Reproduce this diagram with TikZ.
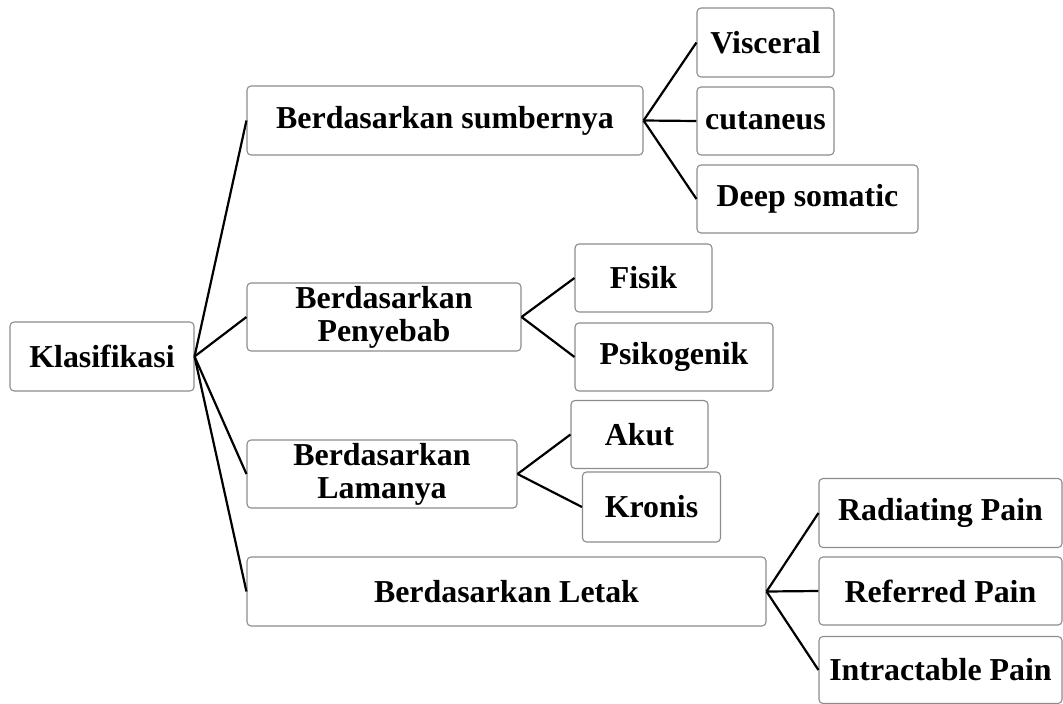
\documentclass[tikz,border=0pt]{standalone}
\usepackage{fontspec}
\setmainfont{Liberation Serif}
\begin{document}
\begin{tikzpicture}[x=1pt,y=-1pt,
  box/.style={draw=black!45, line width=1.1pt, rounded corners=4pt, fill=white,
    inner sep=0pt, align=center,
    font=\fontsize{31.9}{33}\selectfont\bfseries},
  link/.style={draw=black, line width=2.2pt}]
\useasboundingbox (0,0) rectangle (1063,704);
% nodes
\node[box, minimum width=184pt, minimum height=69pt] (kl) at (102,356.5) {Klasifikasi};
\node[box, minimum width=396pt, minimum height=69pt] (s1) at (445,120.5) {Berdasarkan sumbernya};
\node[box, minimum width=274pt, minimum height=68pt] (s2) at (384,317) {Berdasarkan\\Penyebab};
\node[box, minimum width=270pt, minimum height=68pt] (s3) at (382,474) {Berdasarkan\\Lamanya};
\node[box, minimum width=519pt, minimum height=69pt] (s4) at (506.5,591.5) {Berdasarkan Letak};
\node[box, minimum width=137pt, minimum height=69pt] (v) at (765.5,42.5) {Visceral};
\node[box, minimum width=137pt, minimum height=68pt] (c) at (765.5,121) {cutaneus};
\node[box, minimum width=221pt, minimum height=68pt] (d) at (807.5,199) {Deep somatic};
\node[box, minimum width=137pt, minimum height=68pt] (f) at (643.5,278) {Fisik};
\node[box, minimum width=198pt, minimum height=68pt] (p) at (674,357) {Psikogenik};
\node[box, minimum width=137pt, minimum height=68pt] (a) at (639.5,434.5) {Akut};
\node[box, minimum width=138pt, minimum height=70pt] (k) at (651.5,507) {Kronis};
\node[box, minimum width=243pt, minimum height=69pt] (r) at (940.5,513) {Radiating Pain};
\node[box, minimum width=243pt, minimum height=68pt] (rf) at (940.5,591) {Referred Pain};
\node[box, minimum width=243pt, minimum height=67pt] (i) at (940.5,670) {Intractable Pain};
% connectors
\draw[link] (kl.east) -- (s1.west);
\draw[link] (kl.east) -- (s2.west);
\draw[link] (kl.east) -- (s3.west);
\draw[link] (kl.east) -- (s4.west);
\draw[link] (s1.east) -- (v.west);
\draw[link] (s1.east) -- (c.west);
\draw[link] (s1.east) -- (d.west);
\draw[link] (s2.east) -- (f.west);
\draw[link] (s2.east) -- (p.west);
\draw[link] (s3.east) -- (a.west);
\draw[link] (s3.east) -- (k.west);
\draw[link] (s4.east) -- (r.west);
\draw[link] (s4.east) -- (rf.west);
\draw[link] (s4.east) -- (i.west);
\end{tikzpicture}
\end{document}
